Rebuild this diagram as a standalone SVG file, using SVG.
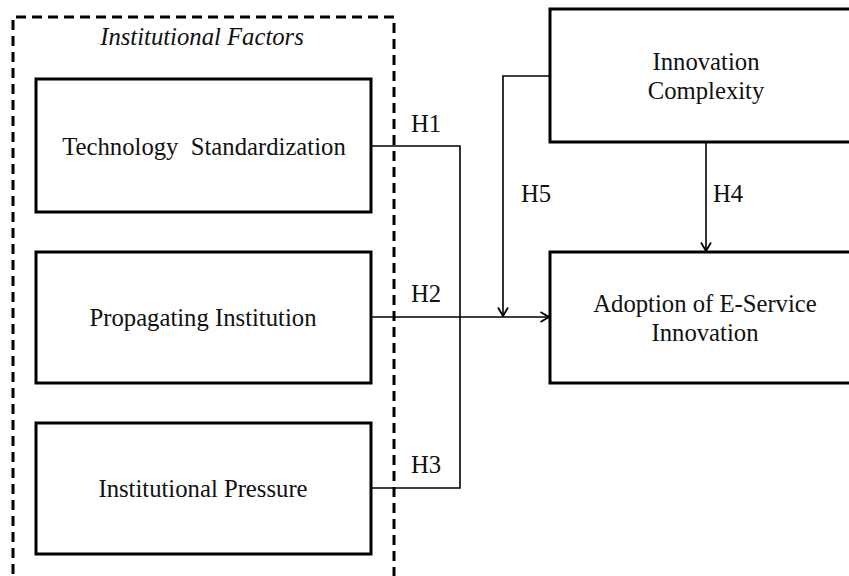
<svg xmlns="http://www.w3.org/2000/svg" width="849" height="576" viewBox="0 0 849 576">
  <style>
    .box { fill: #fff; stroke: #000; stroke-width: 3; }
    .frame { fill: none; stroke: #000; stroke-width: 3; stroke-dasharray: 10 6; }
    .wire { fill: none; stroke: #000; stroke-width: 1.6; }
    .lbl { font-family: "Liberation Serif", "Times New Roman", serif; font-size: 24.7px; fill: #111; }
    .mid { text-anchor: middle; }
    .it { font-style: italic; }
  </style>
  <defs>
    <marker id="vhead" viewBox="0 0 10 12" refX="9.5" refY="6" markerWidth="10" markerHeight="12" markerUnits="userSpaceOnUse" orient="auto">
      <path d="M1,1 L9.5,6 L1,11" fill="none" stroke="#000" stroke-width="1.8"/>
    </marker>
  </defs>
  <rect width="849" height="576" fill="#fff"/>

  <!-- dashed grouping frame for the institutional factors -->
  <g id="institutional-factors">
    <path class="frame" d="M13,590 L13,17 L394,17 L394,590"/>
    <text class="lbl it mid" x="202" y="45">Institutional Factors</text>
  </g>

  <g id="connectors">
    <!-- H1 / H3 bracket -->
    <path class="wire" d="M371,146 H460 V488 H371"/>
    <!-- H2 into adoption -->
    <path class="wire" d="M371,317 H549" marker-end="url(#vhead)"/>
    <!-- H5 moderation -->
    <path class="wire" d="M550,76 H503 V316" marker-end="url(#vhead)"/>
    <!-- H4 -->
    <path class="wire" d="M706,142 V251" marker-end="url(#vhead)"/>
    <text class="lbl" x="411" y="132">H1</text>
    <text class="lbl" x="411" y="302">H2</text>
    <text class="lbl" x="411" y="473">H3</text>
    <text class="lbl" x="521" y="202">H5</text>
    <text class="lbl" x="713" y="202">H4</text>
  </g>

  <g id="technology-standardization">
    <rect class="box" x="36" y="79" width="335" height="133"/>
    <text class="lbl mid" x="204" y="155" xml:space="preserve">Technology  Standardization</text>
  </g>

  <g id="propagating-institution">
    <rect class="box" x="36" y="252" width="335" height="131"/>
    <text class="lbl mid" x="203" y="326">Propagating Institution</text>
  </g>

  <g id="institutional-pressure">
    <rect class="box" x="36" y="423" width="335" height="131"/>
    <text class="lbl mid" x="203" y="497">Institutional Pressure</text>
  </g>

  <g id="innovation-complexity">
    <rect class="box" x="550" y="9" width="305" height="133"/>
    <text class="lbl mid" x="706" y="70">Innovation</text>
    <text class="lbl mid" x="706" y="99">Complexity</text>
  </g>

  <g id="adoption">
    <rect class="box" x="550" y="252" width="305" height="131"/>
    <text class="lbl mid" x="705" y="312">Adoption of E-Service</text>
    <text class="lbl mid" x="705" y="341">Innovation</text>
  </g>
</svg>
